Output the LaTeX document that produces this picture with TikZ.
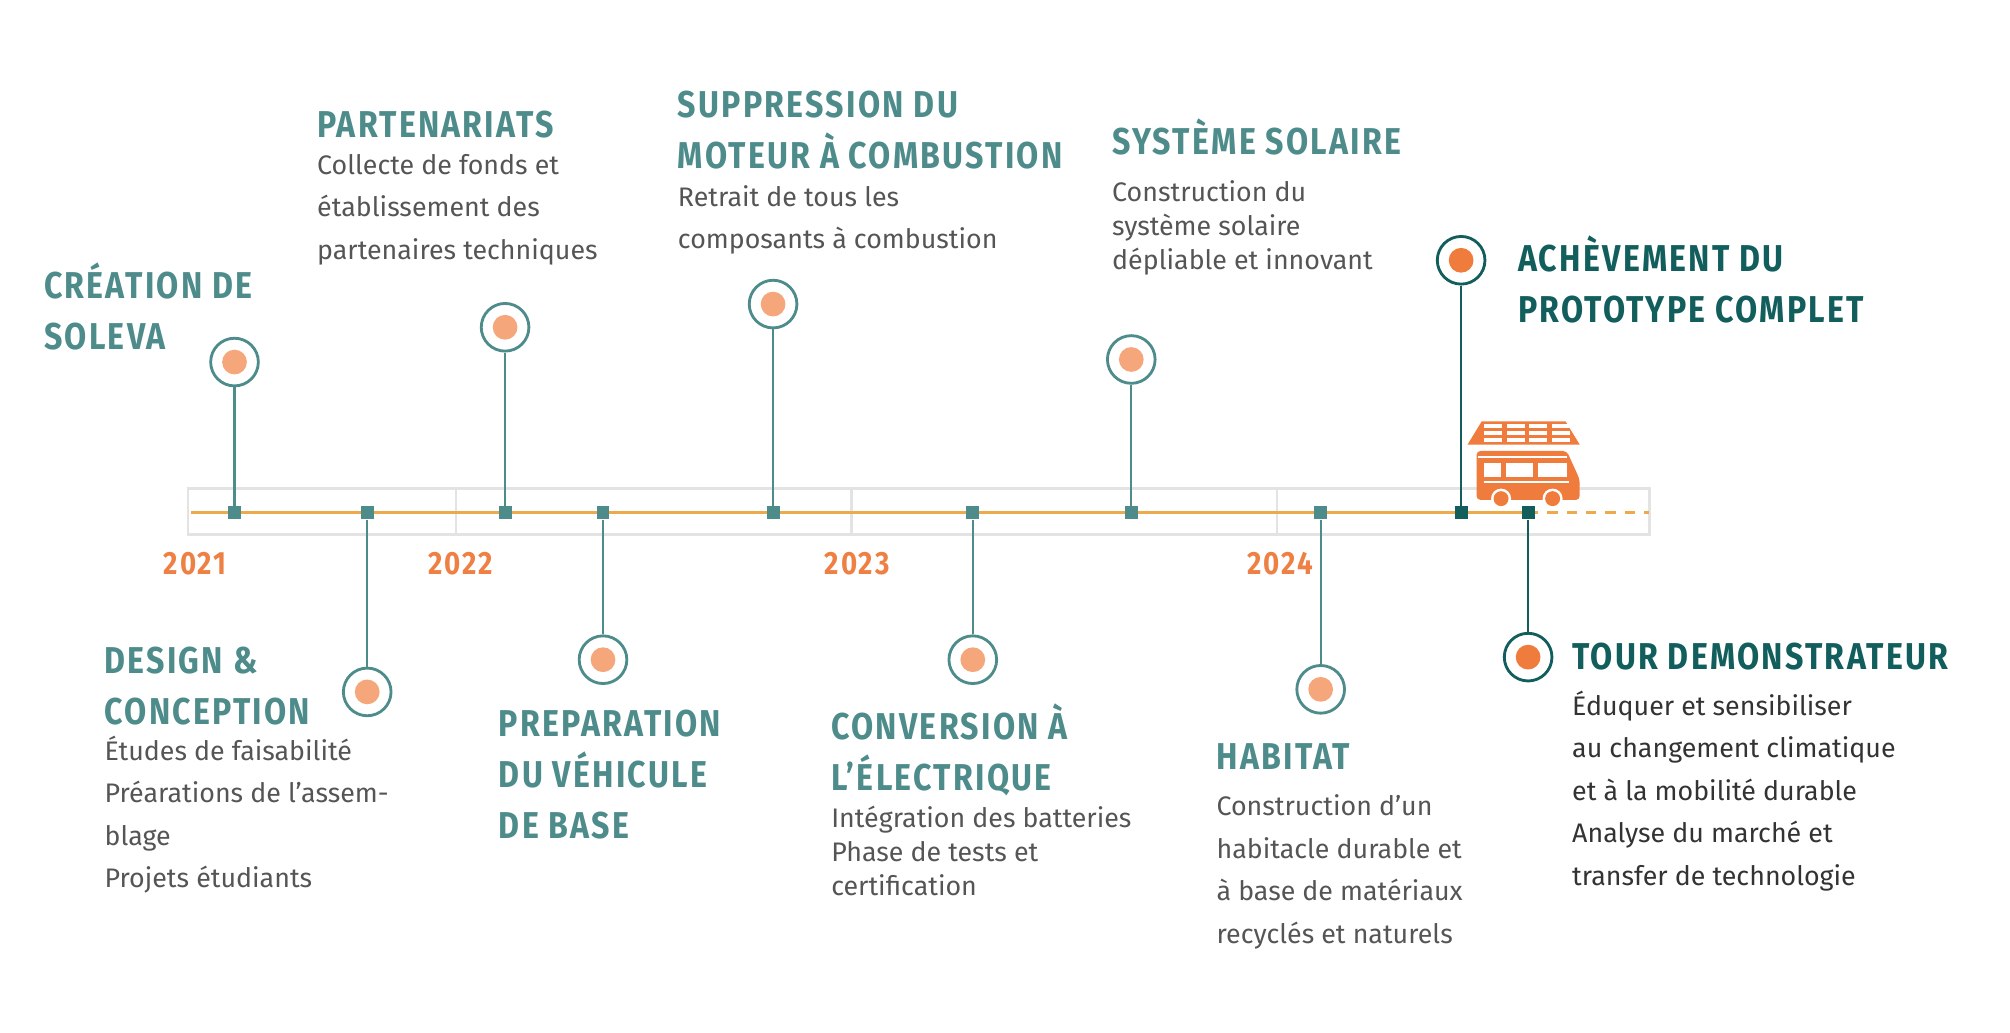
\documentclass[tikz,border=0pt]{standalone}
\usepackage{fontspec}
\setmainfont{Fira Sans}
\newfontfamily\headfont[FakeStretch=0.86,LetterSpace=6]{Fira Sans}[BoldFont=* Bold]
\definecolor{tealA}{HTML}{4E8C8B}
\definecolor{tealD}{HTML}{125E5C}
\definecolor{orangeY}{HTML}{EE8044}
\definecolor{orangeL}{HTML}{F5A77B}
\definecolor{orangeD}{HTML}{EF7B3C}
\definecolor{lineO}{HTML}{EDAA4C}
\definecolor{barG}{HTML}{E3E3E3}
\definecolor{bodyG}{HTML}{555555}

\begin{document}
\begin{tikzpicture}[x=1pt,y=-1pt,
  head/.style={font=\headfont\bfseries\fontsize{29}{39.5}\selectfont,text=tealA,align=left,anchor=north west,inner sep=0},
  body/.style={font=\fontsize{20.8}{33}\selectfont,text=bodyG,align=left,anchor=north west,inner sep=0},
  year/.style={font=\headfont\bfseries\fontsize{25}{25}\selectfont,text=orangeY,anchor=base west,inner sep=0},
  tick/.style={draw=none,fill=tealA,minimum size=10pt,inner sep=0},
  pin/.style={circle,draw=tealA,line width=2.2pt,fill=white,minimum size=37pt,inner sep=0,
    path picture={\fill[orangeL] (path picture bounding box.center) circle (9.6pt);}},
  pinD/.style={pin,draw=tealD,path picture={\fill[orangeD] (path picture bounding box.center) circle (9.6pt);}},
  stem/.style={tealA,line width=1.8pt}]
\useasboundingbox (0,0) rectangle (1560,801);
% bar
\draw[barG,line width=2pt] (146,379) rectangle (1280,415);
\foreach \xd in {354,661,991} \draw[barG,line width=2pt] (\xd,379) -- (\xd,415);
\coordinate (b0) at (148,398);
\coordinate (b1) at (1186,398);
\coordinate (b2) at (1280,398);
\draw[lineO,line width=2.2pt] (b0) -- (b1);
\draw[lineO,line width=2.2pt,dash pattern=on 8pt off 7pt] (b1) -- (b2);
% years
\node[year] (y21) at (127,446) {2021};
\node[year] (y22) at (332,446) {2022};
\node[year] (y23) at (640,446) {2023};
\node[year] (y24) at (968,446) {2024};
% events
\foreach \n/\xs/\yc in {1/182/281,2/285/537,3/392/254,4/468/512,5/600/236,6/755/512,7/878/279,8/1025/535}{
  \node[tick] (m\n) at (\xs,398) {};
  \node[pin] (c\n) at (\xs,\yc) {};
  \draw[stem] (m\n) -- (c\n);
}
\node[tick,fill=tealD] (m9) at (1134,398) {};
\node[pinD] (c9) at (1134,202) {};
\draw[stem,tealD] (m9) -- (c9);
\node[tick,fill=tealD] (m10) at (1186,398) {};
\node[pinD] (c10) at (1186,510) {};
\draw[stem,tealD] (m10) -- (c10);
% texts
\node[head] (h1) at (34,204) {\vphantom{É}CRÉATION DE\\SOLEVA};
\node[head] (h2) at (81,495) {\vphantom{É}DESIGN \&\\CONCEPTION};
\node[body] (t2) at (81,571) {Études de faisabilité\\Préarations de l’assem-\\blage\\Projets étudiants};
\node[head] (h3) at (246,79) {\vphantom{É}PARTENARIATS};
\node[body] (t3) at (246,116) {\vphantom{É}Collecte de fonds et\\établissement des\\partenaires techniques};
\node[head] (h4) at (387,544) {\vphantom{É}PREPARATION\\DU VÉHICULE\\DE BASE};
\node[head] (h5) at (526,63) {\vphantom{É}SUPPRESSION DU\\MOTEUR À COMBUSTION};
\node[body] (t5) at (526,141) {\vphantom{É}Retrait de tous les\\composants à combustion};
\node[head] (h6) at (645,546) {\vphantom{É}CONVERSION À\\L’ÉLECTRIQUE};
\node[body,font=\fontsize{20.8}{26.5}\selectfont] (t6) at (645,623) {\vphantom{É}Intégration des batteries\\Phase de tests et\\certification};
\node[head] (h7) at (863,92) {\vphantom{É}SYSTÈME SOLAIRE};
\node[body,font=\fontsize{20.8}{26.5}\selectfont] (t7) at (863,137) {\vphantom{É}Construction du\\système solaire\\dépliable et innovant};
\node[head] (h8) at (944,569) {\vphantom{É}HABITAT};
\node[body] (t8) at (944,614) {\vphantom{É}Construction d’un\\habitacle durable et\\à base de matériaux\\recyclés et naturels};
\node[head,text=tealD] (h9) at (1178,183) {\vphantom{É}ACHÈVEMENT DU\\PROTOTYPE COMPLET};
\node[head,text=tealD] (h10) at (1220,492) {\vphantom{É}TOUR DEMONSTRATEUR};
\node[body,text=black!80] (t10) at (1220,536) {\vphantom{É}Éduquer et sensibiliser\\au changement climatique\\et à la mobilité durable\\Analyse du marché et\\transfer de technologie};
% van with solar panel
\fill[orangeD] (1139,345) -- (1226,345) -- (1215,327) -- (1150,327) -- cycle;
\foreach \r in {0,1,2} \foreach \c in {0,1,2,3}
  \fill[white] ({1150+\c*17.5+2},{329+\r*5.5}) rectangle ++(14,3.3);
\fill[orangeD,rounded corners=3pt] (1146,388) -- (1146,350) -- (1216,350) -- (1226,372) -- (1226,388) -- cycle;
\fill[white] (1147,354) rectangle (1216,355.5);
\fill[white] (1152,359) rectangle (1165,370);
\fill[white] (1169,359) rectangle (1190,370);
\fill[white] (1194,359) rectangle (1216,370);
\fill[white] (1152,373) rectangle (1218,375);
\foreach \xw in {1165,1205}{
  \fill[white] (\xw,387) circle (7.8);
  \fill[orangeD] (\xw,387) circle (5.8);
}
\end{tikzpicture}
\end{document}
